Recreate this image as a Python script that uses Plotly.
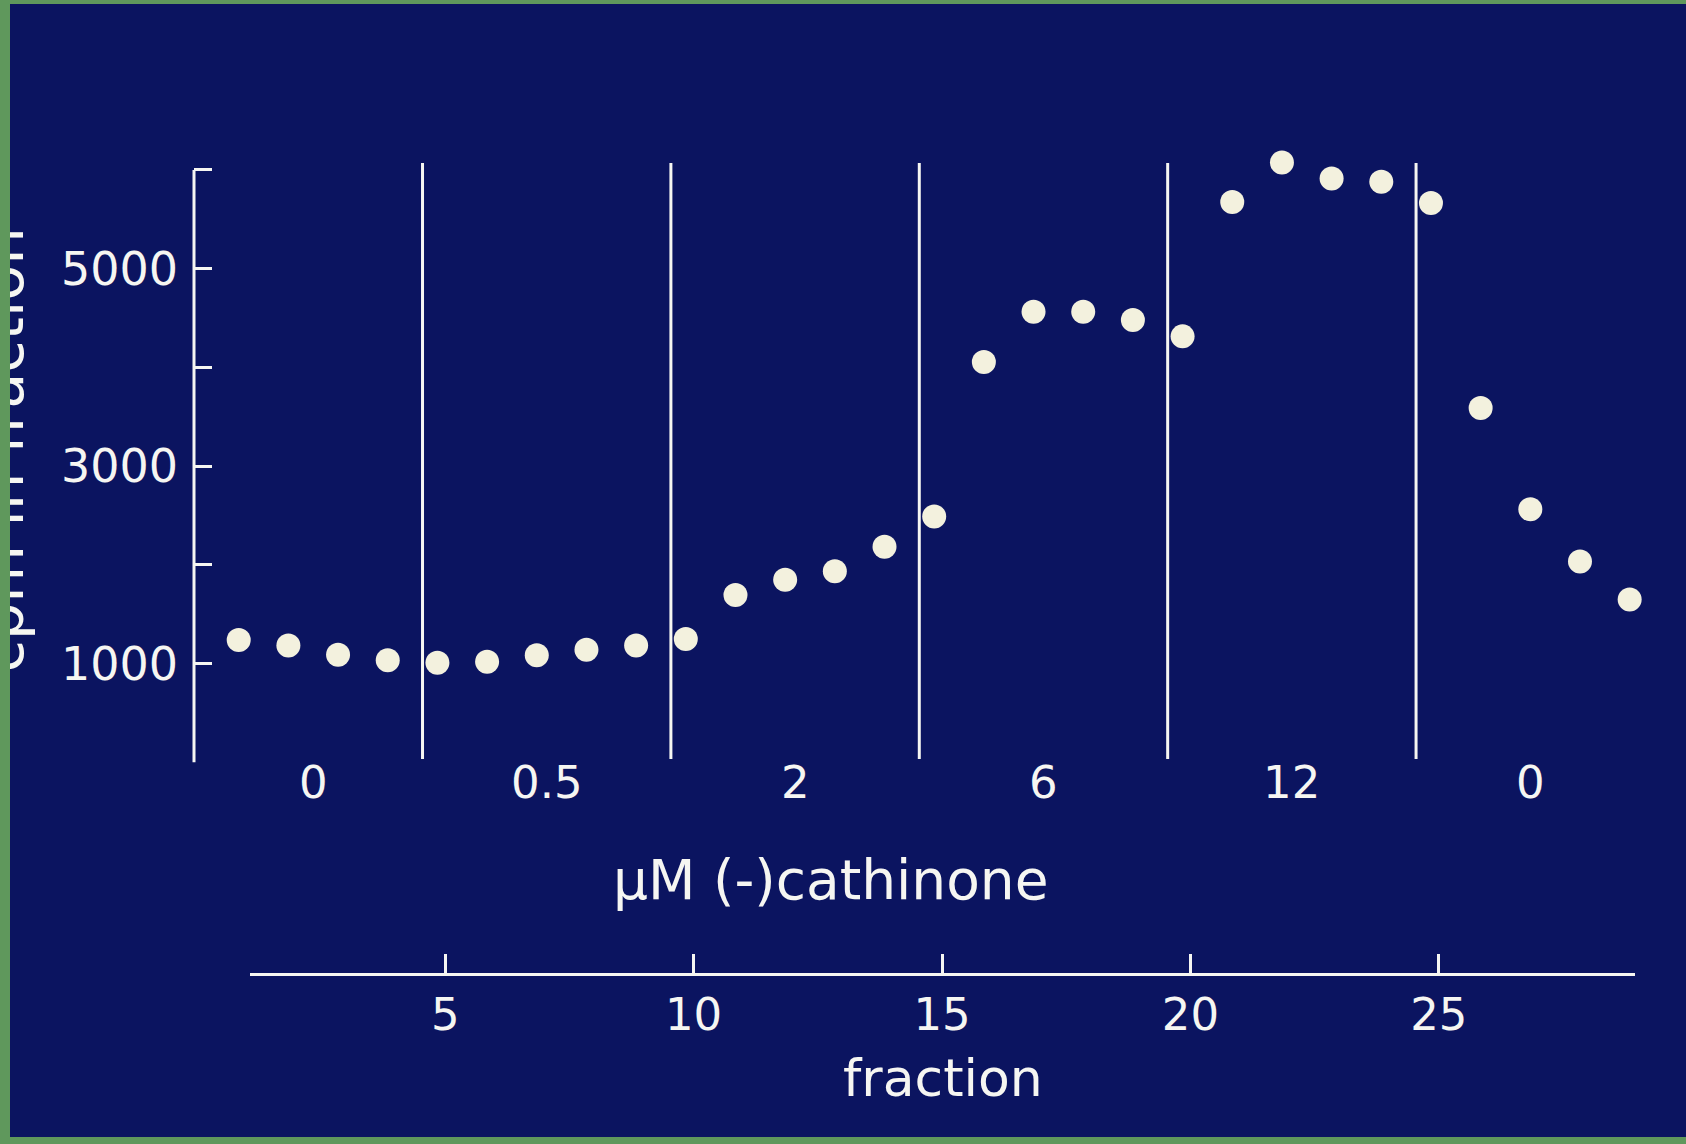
import plotly.graph_objects as go

# ---- data ----
fractions = list(range(1, 30))
cpm = [1240, 1185, 1090, 1035, 1010, 1020, 1085, 1140, 1185, 1250,
       1695, 1850, 1935, 2185, 2490, 4055, 4565, 4565, 4480, 4315,
       5675, 6075, 5915, 5880, 5665, 3590, 2565, 2035, 1650]

concentrations = ["0", "0.5", "2", "6", "12", "0"]
group_start = [1, 5, 10, 15, 20, 25]
group_end = [4, 9, 14, 19, 24, 29]
separators = [4.7, 9.7, 14.7, 19.7, 24.7]

y_ticks = [0, 1000, 2000, 3000, 4000, 5000, 6000]
y_ticktext = ["", "1000", "", "3000", "", "5000", ""]
fraction_ticks = [5, 10, 15, 20, 25]

# ---- styling ----
W, H = 1686, 1144
NAVY = "#0b1460"
GREEN = "#5f985c"
WHITE = "#f6f6f2"
DOT = "#f3f1de"
FONT = "DejaVu Sans"

Y_AXIS_X = 194          # page px of the cpm axis spine
Y0_PX, Y6000_PX = 762.4, 170.0
Y_TOP = 6100            # axis range headroom so the top dot is kept
y_top_px = Y6000_PX - (Y0_PX - Y6000_PX) / 6000 * (Y_TOP - 6000)


def px(x):
    return x / W


def py(y):
    return 1 - y / H


fig = go.Figure()

fig.add_trace(go.Scatter(
    x=fractions, y=cpm, mode="markers", cliponaxis=False,
    marker=dict(size=24, color=DOT, line=dict(width=0)),
    xaxis="x", yaxis="y", showlegend=False, hoverinfo="x+y",
))

# carrier trace for the fraction axis
fig.add_trace(go.Scatter(
    x=fraction_ticks, y=[0] * len(fraction_ticks), mode="markers",
    marker=dict(size=1, opacity=0), xaxis="x2", yaxis="y",
    showlegend=False, hoverinfo="skip",
))

shapes = [dict(type="rect", xref="paper", yref="paper",
               x0=px(10), x1=1.0, y0=py(1137), y1=py(4),
               fillcolor=NAVY, line=dict(width=0), layer="below"),
          # cpm axis spine from 0 to 6000
          dict(type="line", xref="paper", yref="y",
               x0=px(Y_AXIS_X), x1=px(Y_AXIS_X), y0=y_ticks[0], y1=y_ticks[-1],
               line=dict(color=WHITE, width=3))]
for s in separators:
    shapes.append(dict(type="line", xref="x", yref="paper",
                       x0=s, x1=s, y0=py(759), y1=py(163),
                       line=dict(color=WHITE, width=3)))

annotations = []
bounds = [None] + separators + [None]
for i, (lab, a, b) in enumerate(zip(concentrations, group_start, group_end)):
    lo, hi = bounds[i], bounds[i + 1]
    cx = (lo + hi) / 2 if (lo is not None and hi is not None) else (a + b) / 2
    annotations.append(dict(
        text=lab, xref="x", yref="paper", x=cx, y=py(782),
        showarrow=False, font=dict(family=FONT, size=45, color=WHITE),
        xanchor="center", yanchor="middle"))

annotations.append(dict(
    text="µM (-)cathinone", xref="paper", yref="paper",
    x=px(831), y=py(880), showarrow=False,
    font=dict(family=FONT, size=55, color=WHITE),
    xanchor="center", yanchor="middle"))
annotations.append(dict(
    text="fraction", xref="paper", yref="paper",
    x=px(943), y=py(1078), showarrow=False,
    font=dict(family=FONT, size=52, color=WHITE),
    xanchor="center", yanchor="middle"))
annotations.append(dict(
    text="cpm in fraction", xref="paper", yref="paper",
    x=px(38), y=py(450), showarrow=False, textangle=-90,
    font=dict(family=FONT, size=59, color=WHITE),
    xanchor="right", yanchor="middle"))
# slide-mount border strip on the left, drawn over the clipped title
annotations.append(dict(
    text=".", xref="paper", yref="paper", x=0, y=0.5,
    xanchor="left", yanchor="middle", showarrow=False,
    width=10, height=H, bgcolor=GREEN, borderpad=0, borderwidth=0,
    font=dict(size=4, color=GREEN)))

fig.update_layout(
    width=W, height=H,
    margin=dict(l=0, r=0, t=0, b=0),
    paper_bgcolor=GREEN,
    plot_bgcolor="rgba(0,0,0,0)",
    shapes=shapes,
    annotations=annotations,
    xaxis=dict(domain=[px(Y_AXIS_X), px(1656)], range=[0.10, 29.53],
               visible=False, fixedrange=True),
    xaxis2=dict(domain=[px(249.5), px(1634.5)], range=[1.06, 28.94],
                anchor="free", position=py(974),
                showline=True, linecolor=WHITE, linewidth=3,
                ticks="inside", ticklen=19, tickwidth=3, tickcolor=WHITE,
                tickvals=fraction_ticks, ticklabelstandoff=0,
                tickfont=dict(family=FONT, size=45, color=WHITE),
                showgrid=False, zeroline=False, side="bottom"),
    yaxis=dict(domain=[py(Y0_PX), py(y_top_px)], range=[0, Y_TOP],
               showline=False,
               ticks="inside", ticklen=18, tickwidth=3, tickcolor=WHITE,
               tickvals=y_ticks, ticktext=y_ticktext, ticklabelstandoff=15,
               tickfont=dict(family=FONT, size=46, color=WHITE),
               showgrid=False, zeroline=False),
    showlegend=False,
)

fig.write_html(
    "out.html",
    config={"displayModeBar": False},
    post_script="document.body.style.margin='0px';"
                "document.body.style.background='" + GREEN + "';",
)
